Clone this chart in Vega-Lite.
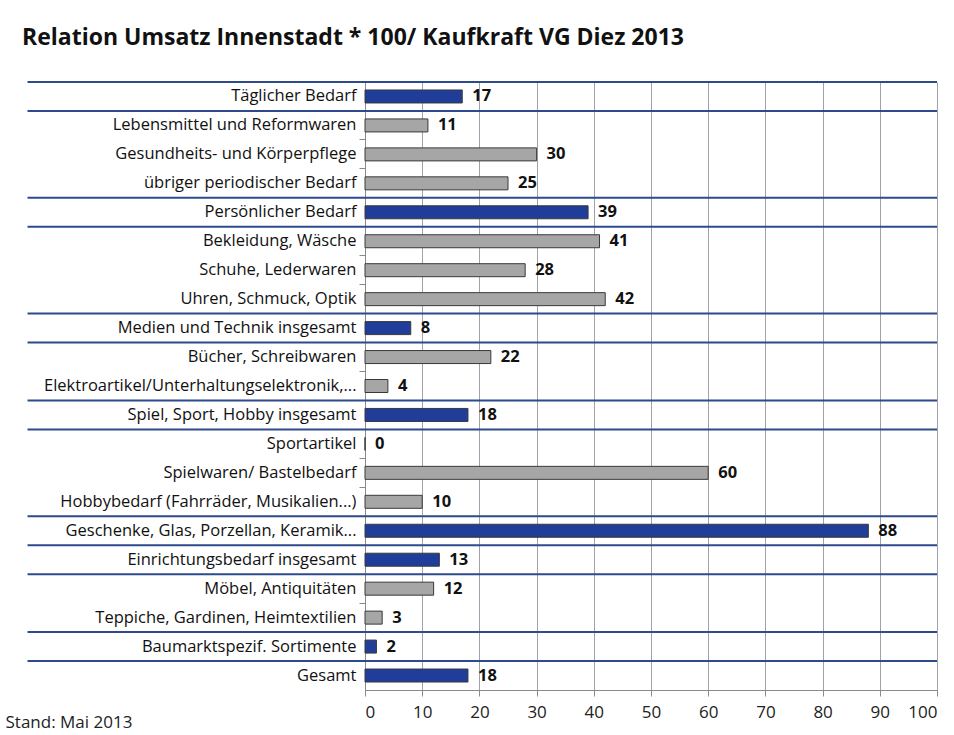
{
  "$schema": "https://vega.github.io/schema/vega-lite/v6.json",
  "autosize": {"type": "none"},
  "width": 572,
  "height": 608,
  "padding": {"left": 365, "top": 82, "right": 17, "bottom": 45},
  "background": "white",
  "title": {
    "text": "Relation Umsatz Innenstadt * 100/ Kaufkraft VG Diez 2013",
    "anchor": "start",
    "frame": "group",
    "dx": -343,
    "offset": 31,
    "font": "Open Sans",
    "fontSize": 23,
    "fontWeight": "bold",
    "color": "#111111"
  },
  "datasets": {
    "bars": [
      {"cat": "Täglicher Bedarf", "value": 17, "type": "Gruppe"},
      {"cat": "Lebensmittel und Reformwaren", "value": 11, "type": "Sortiment"},
      {"cat": "Gesundheits- und Körperpflege", "value": 30, "type": "Sortiment"},
      {"cat": "übriger periodischer Bedarf", "value": 25, "type": "Sortiment"},
      {"cat": "Persönlicher Bedarf", "value": 39, "type": "Gruppe"},
      {"cat": "Bekleidung, Wäsche", "value": 41, "type": "Sortiment"},
      {"cat": "Schuhe, Lederwaren", "value": 28, "type": "Sortiment"},
      {"cat": "Uhren, Schmuck, Optik", "value": 42, "type": "Sortiment"},
      {"cat": "Medien und Technik insgesamt", "value": 8, "type": "Gruppe"},
      {"cat": "Bücher, Schreibwaren", "value": 22, "type": "Sortiment"},
      {"cat": "Elektroartikel/Unterhaltungselektronik,...", "value": 4, "type": "Sortiment"},
      {"cat": "Spiel, Sport, Hobby insgesamt", "value": 18, "type": "Gruppe"},
      {"cat": "Sportartikel", "value": 0, "type": "Sortiment"},
      {"cat": "Spielwaren/ Bastelbedarf", "value": 60, "type": "Sortiment"},
      {"cat": "Hobbybedarf (Fahrräder, Musikalien...)", "value": 10, "type": "Sortiment"},
      {"cat": "Geschenke, Glas, Porzellan, Keramik...", "value": 88, "type": "Gruppe"},
      {"cat": "Einrichtungsbedarf insgesamt", "value": 13, "type": "Gruppe"},
      {"cat": "Möbel, Antiquitäten", "value": 12, "type": "Sortiment"},
      {"cat": "Teppiche, Gardinen, Heimtextilien", "value": 3, "type": "Sortiment"},
      {"cat": "Baumarktspezif. Sortimente", "value": 2, "type": "Gruppe"},
      {"cat": "Gesamt", "value": 18, "type": "Gruppe"}
    ],
    "lines": [
      {"cat": "Täglicher Bedarf", "from": -59, "to": 100},
      {"cat": "Lebensmittel und Reformwaren", "from": -59, "to": 100},
      {"cat": "Persönlicher Bedarf", "from": -59, "to": 100},
      {"cat": "Bekleidung, Wäsche", "from": -59, "to": 100},
      {"cat": "Medien und Technik insgesamt", "from": -59, "to": 100},
      {"cat": "Bücher, Schreibwaren", "from": -59, "to": 100},
      {"cat": "Spiel, Sport, Hobby insgesamt", "from": -59, "to": 100},
      {"cat": "Sportartikel", "from": -59, "to": 100},
      {"cat": "Geschenke, Glas, Porzellan, Keramik...", "from": -59, "to": 100},
      {"cat": "Einrichtungsbedarf insgesamt", "from": -59, "to": 100},
      {"cat": "Möbel, Antiquitäten", "from": -59, "to": 100},
      {"cat": "Baumarktspezif. Sortimente", "from": -59, "to": 100},
      {"cat": "Gesamt", "from": -59, "to": 100}
    ]
  },
  "config": {
    "view": {"stroke": null},
    "font": "Open Sans"
  },
  "layer": [
    {
      "data": {"name": "bars"},
      "mark": {"type": "bar", "size": 13, "strokeWidth": 1, "stroke": "#3a3a3a"},
      "encoding": {
        "y": {
          "field": "cat",
          "type": "nominal",
          "sort": null,
          "scale": {
            "domain": ["Täglicher Bedarf", "Lebensmittel und Reformwaren", "Gesundheits- und Körperpflege", "übriger periodischer Bedarf", "Persönlicher Bedarf", "Bekleidung, Wäsche", "Schuhe, Lederwaren", "Uhren, Schmuck, Optik", "Medien und Technik insgesamt", "Bücher, Schreibwaren", "Elektroartikel/Unterhaltungselektronik,...", "Spiel, Sport, Hobby insgesamt", "Sportartikel", "Spielwaren/ Bastelbedarf", "Hobbybedarf (Fahrräder, Musikalien...)", "Geschenke, Glas, Porzellan, Keramik...", "Einrichtungsbedarf insgesamt", "Möbel, Antiquitäten", "Teppiche, Gardinen, Heimtextilien", "Baumarktspezif. Sortimente", "Gesamt"],
            "paddingInner": 0,
            "paddingOuter": 0
          },
          "axis": {
            "title": null,
            "bandPosition": 0,
            "domainColor": "#8a8a8a",
            "tickColor": "#8a8a8a",
            "tickSize": 6,
            "labelPadding": 3,
            "labelFontSize": 16.5,
            "labelFont": "Open Sans",
            "labelColor": "#111111",
            "labelLimit": 400
          }
        },
        "x": {
          "field": "value",
          "type": "quantitative",
          "scale": {"domain": [0, 100], "nice": false},
          "axis": {
            "values": [0, 10, 20, 30, 40, 50, 60, 70, 80, 90, 100],
            "grid": true,
            "gridColor": "#9ea3ab",
            "gridWidth": 1,
            "domainColor": "#8a8a8a",
            "tickColor": "#8a8a8a",
            "tickSize": 6,
            "labelPadding": 8,
            "labelFontSize": 17,
            "labelFont": "Open Sans",
            "labelColor": "#222222",
            "title": "Stand: Mai 2013",
            "titleX": -360,
            "titleY": 32,
            "titleAnchor": "start",
            "titleAlign": "left",
            "titleBaseline": "middle",
            "titleFont": "Open Sans",
            "titleFontSize": 17,
            "titleFontWeight": "normal",
            "titleColor": "#222222"
          }
        },
        "color": {
          "field": "type",
          "type": "nominal",
          "scale": {"domain": ["Gruppe", "Sortiment"], "range": ["#1f3d99", "#a6a6a6"]},
          "legend": null
        }
      }
    },
    {
      "data": {"name": "lines"},
      "mark": {"type": "rule", "color": "#2c4a8c", "strokeWidth": 2},
      "encoding": {
        "y": {"field": "cat", "type": "nominal", "bandPosition": 0},
        "x": {"field": "from", "type": "quantitative"},
        "x2": {"field": "to"}
      }
    },
    {
      "data": {"name": "bars"},
      "mark": {"type": "text", "align": "left", "baseline": "middle", "dx": 10, "fontSize": 16.5, "fontWeight": "bold", "font": "Open Sans", "color": "#111111"},
      "encoding": {
        "y": {"field": "cat", "type": "nominal"},
        "x": {"field": "value", "type": "quantitative"},
        "text": {"field": "value", "type": "quantitative"}
      }
    }
  ]
}
